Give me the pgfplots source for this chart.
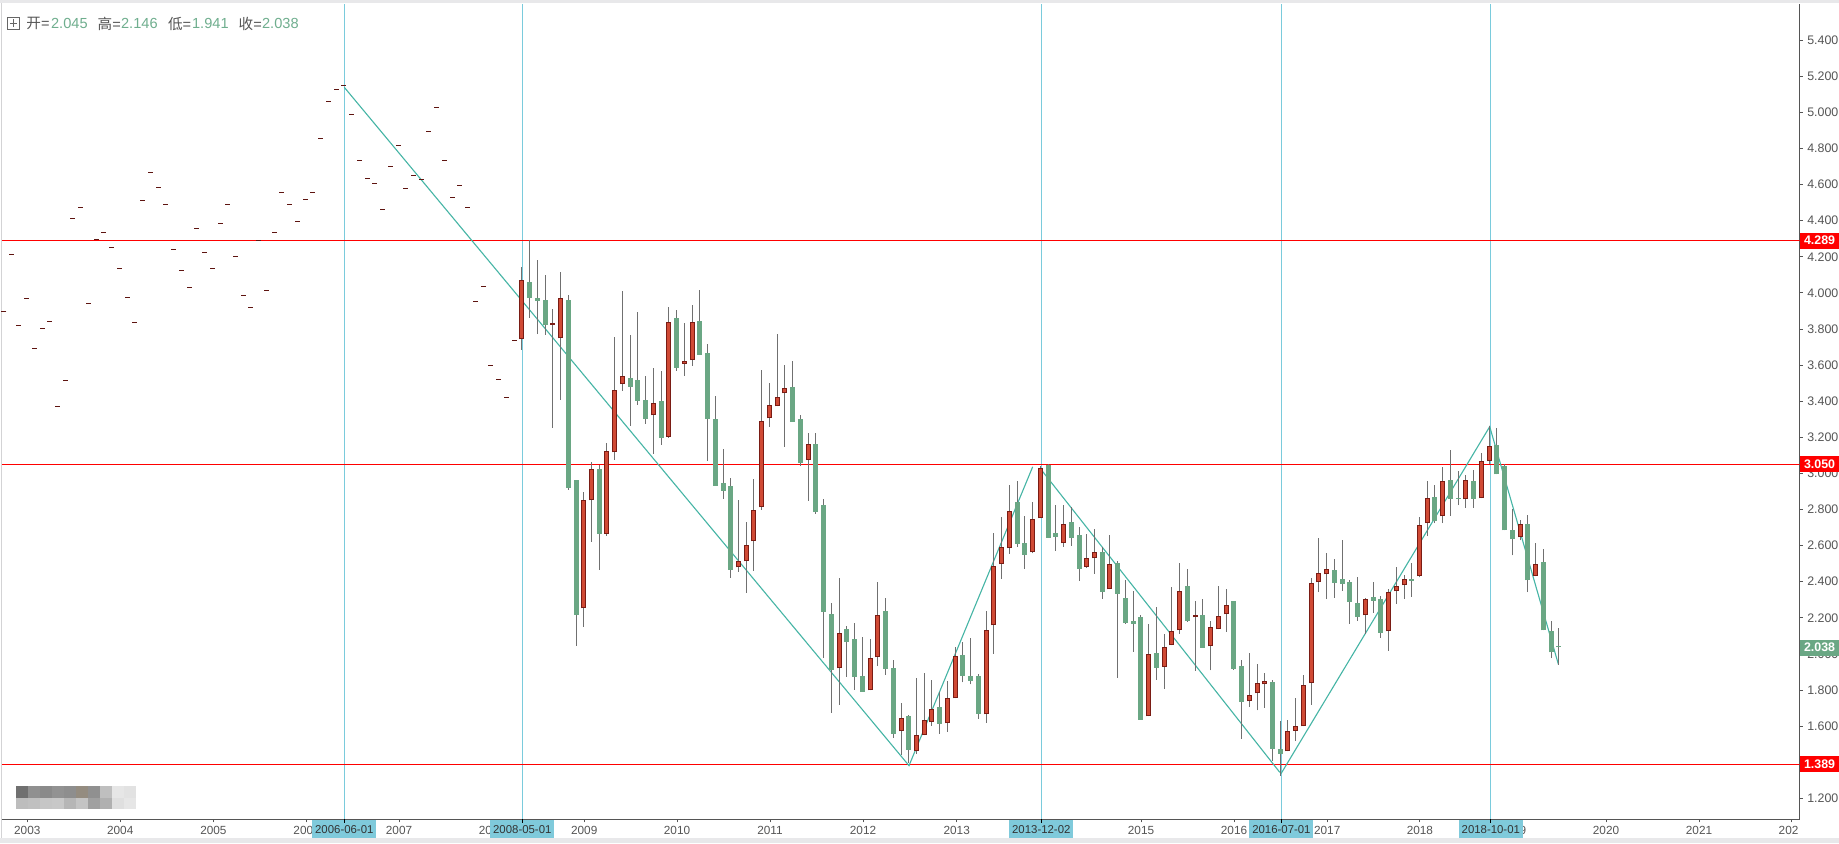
\documentclass[border=0pt]{standalone}
\usepackage{fontspec}
\setmainfont{Liberation Sans}
\newfontfamily\cjk{Noto Sans CJK SC}
\usepackage{pgfplots}
\usepackage{pgfplotstable}
\pgfplotsset{compat=1.18}
\definecolor{upfill}{HTML}{D04A35}
\definecolor{upedge}{HTML}{7A1C14}
\definecolor{down}{HTML}{6AA784}
\definecolor{wick}{HTML}{707070}
\definecolor{dashc}{HTML}{5E1410}
\definecolor{zig}{HTML}{45B5A5}
\definecolor{vline}{HTML}{7ACBDC}
\definecolor{tagc}{HTML}{7FCADB}
\definecolor{axisc}{HTML}{555555}
\definecolor{headv}{HTML}{6FAE8E}
\definecolor{band}{HTML}{E8E8EA}

\pgfplotstableread{
x y
4 3.898
11.3 4.214
18.3 3.820
26.3 3.970
34.3 3.693
42.3 3.804
49.3 3.843
57.3 3.372
65.3 3.516
72.3 4.413
80.3 4.474
88.3 3.942
96.3 4.297
103.3 4.336
111.3 4.253
119.3 4.136
127.3 3.976
134.3 3.837
142.3 4.513
150.3 4.668
158.3 4.585
165.3 4.491
173.3 4.242
181.3 4.125
189.3 4.031
196.3 4.358
204.3 4.225
212.3 4.136
220.3 4.386
227.3 4.491
235.3 4.203
243.3 3.987
250.3 3.920
258.3 4.288
266.3 4.014
274.3 4.336
281.3 4.557
289.3 4.491
297.3 4.397
305.3 4.518
312.3 4.557
320.3 4.856
328.3 5.061
336.3 5.128
343.3 5.148
351.3 4.989
359.3 4.735
367.3 4.635
374.3 4.607
382.3 4.463
390.3 4.703
398.3 4.818
405.3 4.579
413.3 4.651
421.3 4.629
428.3 4.895
436.3 5.028
444.3 4.735
452.3 4.529
459.3 4.596
467.3 4.474
475.3 3.953
483.7 4.036
490.3 3.599
498.3 3.521
506.3 3.422
514.3 3.737
}\dashes

\pgfplotstableread{
x lo hi wl wh
521.7 3.743 4.070 3.686 4.144
552.3 3.824 3.832 3.254 3.909
560.3 3.748 3.970 3.409 4.116
583.3 2.253 2.851 2.151 2.895
591.3 2.851 3.023 2.622 3.061
606.3 2.666 3.122 2.655 3.167
614.3 3.117 3.460 3.076 3.756
622.3 3.494 3.538 3.457 4.011
653.3 3.322 3.388 3.109 3.582
668.3 3.204 3.837 3.198 3.920
684.3 3.608 3.621 3.542 3.832
692.3 3.627 3.837 3.597 3.931
738.3 2.480 2.513 2.456 2.851
746.3 2.513 2.602 2.339 2.729
753.3 2.624 2.796 2.461 2.967
761.3 2.812 3.289 2.799 3.571
769.3 3.305 3.377 3.259 3.499
777.3 3.372 3.422 3.372 3.771
784.3 3.444 3.471 3.148 3.599
808.3 3.073 3.161 2.849 3.222
839.3 1.920 2.114 1.719 2.419
870.3 1.798 1.976 1.798 2.081
877.3 1.981 2.214 1.935 2.397
901.3 1.571 1.643 1.440 1.726
916.3 1.464 1.549 1.447 1.865
924.3 1.549 1.632 1.549 1.892
931.3 1.621 1.693 1.602 1.854
947.3 1.615 1.754 1.569 1.848
955.3 1.754 1.986 1.754 2.036
986.3 1.665 2.131 1.619 2.236
993.3 2.158 2.485 2.001 2.668
1001.3 2.496 2.590 2.417 2.757
1009.3 2.585 2.790 2.555 2.934
1032.3 2.563 2.745 2.557 2.840
1040.3 2.751 3.028 2.751 3.041
1063.3 2.613 2.718 2.594 2.823
1086.3 2.483 2.529 2.478 2.662
1094.3 2.529 2.563 2.444 2.690
1109.3 2.358 2.496 2.358 2.657
1148.3 1.654 1.998 1.654 2.164
1164.3 1.929 2.036 1.807 2.108
1171.3 2.047 2.125 2.047 2.369
1179.3 2.131 2.347 2.112 2.502
1195.3 2.203 2.214 1.907 2.291
1210.3 2.042 2.147 1.909 2.180
1218.3 2.136 2.208 2.136 2.374
1226.3 2.219 2.269 2.123 2.358
1249.3 1.737 1.770 1.708 2.003
1257.3 1.781 1.837 1.687 1.942
1264.8 1.831 1.848 1.702 1.892
1287.7 1.460 1.575 1.460 1.632
1295.5 1.575 1.599 1.519 1.754
1303.6 1.599 1.826 1.599 1.881
1311.3 1.837 2.391 1.719 2.419
1318.3 2.397 2.447 2.343 2.640
1326.5 2.441 2.469 2.304 2.557
1365.2 2.214 2.302 2.109 2.308
1388.5 2.125 2.341 2.018 2.358
1396.6 2.347 2.375 2.278 2.480
1404.4 2.380 2.413 2.306 2.435
1419.5 2.430 2.712 2.424 2.757
1427.3 2.724 2.862 2.652 2.956
1442.4 2.762 2.956 2.724 3.034
1465.3 2.856 2.962 2.810 2.989
1481.6 2.862 3.067 2.862 3.111
1489.3 3.067 3.150 3.050 3.263
1520.7 2.646 2.718 2.629 2.740
1535.5 2.430 2.500 2.430 2.613
}\upcandles

\pgfplotstableread{
x lo hi wl wh
529.3 3.974 4.061 3.863 4.291
537.3 3.957 3.972 3.772 4.181
545.3 3.824 3.961 3.767 4.097
568.3 2.921 3.961 2.910 3.988
576.3 2.218 2.964 2.046 2.964
599.3 2.666 3.025 2.467 3.047
630.3 3.481 3.527 3.265 3.765
637.3 3.403 3.516 3.381 3.892
645.3 3.303 3.405 3.276 3.538
661.3 3.198 3.399 3.159 3.566
676.3 3.586 3.861 3.569 3.904
699.3 3.658 3.843 3.658 4.014
707.3 3.303 3.665 3.071 3.715
715.3 2.932 3.300 2.932 3.427
723.3 2.904 2.945 2.860 3.133
730.3 2.467 2.928 2.422 2.973
792.3 3.287 3.477 3.287 3.621
800.3 3.060 3.300 3.043 3.322
815.3 2.788 3.161 2.777 3.222
823.3 2.234 2.823 1.979 2.856
831.3 1.913 2.219 1.675 2.280
846.3 2.068 2.136 1.874 2.153
854.3 1.874 2.081 1.802 2.169
862.3 1.791 1.876 1.791 2.092
885.3 1.918 2.236 1.885 2.308
893.3 1.558 1.920 1.536 1.964
908.3 1.469 1.654 1.397 1.660
939.3 1.613 1.704 1.558 1.787
962.3 1.879 1.992 1.842 2.064
970.3 1.852 1.876 1.831 2.086
978.3 1.669 1.876 1.641 1.887
1017.3 2.611 2.840 2.594 2.956
1024.3 2.550 2.613 2.472 2.762
1048.3 2.644 3.045 2.644 3.050
1055.3 2.649 2.668 2.572 2.823
1071.3 2.644 2.729 2.600 2.812
1079.3 2.472 2.657 2.406 2.701
1102.3 2.345 2.563 2.306 2.590
1117.3 2.334 2.502 1.868 2.513
1125.3 2.171 2.308 2.167 2.408
1133.3 2.167 2.180 2.012 2.347
1140.3 1.636 2.203 1.636 2.214
1156.3 1.924 2.003 1.857 2.258
1187.3 2.184 2.374 2.179 2.468
1202.3 2.035 2.214 2.035 2.302
1233.3 1.918 2.291 1.913 2.291
1241.3 1.735 1.931 1.530 1.964
1272.6 1.475 1.843 1.407 1.854
1280.3 1.447 1.471 1.326 1.627
1334.6 2.395 2.463 2.312 2.524
1342.3 2.389 2.413 2.350 2.629
1349.4 2.290 2.397 2.168 2.408
1357.5 2.206 2.280 2.184 2.426
1373.4 2.295 2.314 2.229 2.397
1380.4 2.118 2.302 2.090 2.319
1411.4 2.406 2.415 2.317 2.502
1434.3 2.738 2.868 2.724 2.934
1450.5 2.860 2.962 2.766 3.128
1458.3 2.860 2.864 2.825 3.012
1473.4 2.860 2.956 2.810 3.017
1496.3 2.995 3.156 2.995 3.250
1504.5 2.685 3.039 2.685 3.050
1512.6 2.635 2.685 2.546 2.801
1527.4 2.408 2.718 2.343 2.768
1543.6 2.131 2.507 2.131 2.579
1551.4 2.009 2.125 1.977 2.181
1558.4 2.038 2.045 1.941 2.146
}\downcandles

\begin{document}
\begin{tikzpicture}[x=1pt,y=1pt]
\begin{scope}[x=0.5pt,y=-0.5pt,shift={(0,421.5pt)}]
  \path[use as bounding box] (0,0) rectangle (1839,843);
  \fill[white] (0,0) rectangle (1839,843);
  \fill[band] (0,0) rectangle (1839,3.3);
  \fill[band] (0,838) rectangle (1839,843);
  \fill[band!80!gray] (1,3.3) rectangle (2,838);
\end{scope}
\begin{axis}[
  at={(1pt,11.85pt)}, anchor=south west,
  scale only axis, width=898.75pt, height=407.65pt,
  xmin=2, xmax=1799.5, ymin=1.0837, ymax=5.6006,
  axis x line=bottom, axis y line=right,
  axis line style={-, color=axisc, line width=0.5pt},
  tick style={color=axisc, line width=0.5pt},
  tick align=outside, major tick length=1.5pt,
  ytick={1.2,1.4,1.6,1.8,2.0,2.2,2.4,2.6,2.8,3.0,3.2,3.4,3.6,3.8,4.0,4.2,4.4,4.6,4.8,5.0,5.2,5.4},
  xtick={27.3,120.2,213.4,306.6,399,492,584.2,677,770,863,956.7,1049.6,1141,1234,1327.2,1419.9,1513,1606,1699,1791.8},
  xticklabels={2003,2004,2005,2006,2007,2008,2009,2010,2011,2012,2013,2014,2015,2016,2017,2018,2019,2020,2021,2022},
  minor tick num=0,
  /pgf/number format/fixed, /pgf/number format/fixed zerofill, /pgf/number format/precision=3,
  /pgf/number format/assume math mode=true,
  y tick label style={font=\fontsize{6.2}{7}\selectfont, color=axisc, inner sep=0pt, xshift=2.2pt},
  x tick label style={font=\fontsize{5.9}{7}\selectfont, color=axisc, inner sep=0pt, yshift=-1.9pt},
  clip=true,
]
% guide lines
\addplot[vline, line width=0.5pt, forget plot] coordinates {(344.3,1.0837) (344.3,5.6006)};
\addplot[vline, line width=0.5pt, forget plot] coordinates {(522.3,1.0837) (522.3,5.6006)};
\addplot[vline, line width=0.5pt, forget plot] coordinates {(1041.3,1.0837) (1041.3,5.6006)};
\addplot[vline, line width=0.5pt, forget plot] coordinates {(1281.4,1.0837) (1281.4,5.6006)};
\addplot[vline, line width=0.5pt, forget plot] coordinates {(1490.8,1.0837) (1490.8,5.6006)};
\addplot[red, line width=0.7pt, forget plot] coordinates {(2,4.289) (1799.5,4.289)};
\addplot[red, line width=0.7pt, forget plot] coordinates {(2,3.050) (1799.5,3.050)};
\addplot[red, line width=0.7pt, forget plot] coordinates {(2,1.389) (1799.5,1.389)};
% zigzag
\addplot[zig, line width=0.55pt, forget plot] coordinates {(344.3,5.139) (909,1.381) (1032.7,3.037)};
\addplot[zig, line width=0.55pt, forget plot] coordinates {(1042.7,3.010) (1279.2,1.348) (1281.4,1.340) (1489.7,3.259) (1558.4,1.942)};
% monthly ticks without range
\addplot[only marks, mark=-, mark size=1.25pt, mark options={color=dashc, line width=0.5pt}, forget plot] table[x=x,y=y] {\dashes};
% wicks
\addplot[draw=none, mark=none, forget plot,
  error bars/.cd, y dir=plus, y explicit, error mark=none,
  error bar style={draw, color=wick, line width=0.5pt}]
  table[x=x, y=wl, y error plus expr=\thisrow{wh}-\thisrow{wl}] {\upcandles};
\addplot[draw=none, mark=none, forget plot,
  error bars/.cd, y dir=plus, y explicit, error mark=none,
  error bar style={draw, color=wick, line width=0.5pt}]
  table[x=x, y=wl, y error plus expr=\thisrow{wh}-\thisrow{wl}] {\downcandles};
% bodies
\addplot[draw=none, mark=none, forget plot,
  error bars/.cd, y dir=plus, y explicit, error mark=none,
  error bar style={draw, color=down, line width=2.5pt}]
  table[x=x, y=lo, y error plus expr=\thisrow{hi}-\thisrow{lo}] {\downcandles};
\addplot[draw=none, mark=none, forget plot,
  error bars/.cd, y dir=plus, y explicit, error mark=none,
  error bar style={draw, color=upedge, line width=2.4pt}]
  table[x=x, y=lo, y error plus expr=\thisrow{hi}-\thisrow{lo}] {\upcandles};
\addplot[draw=none, mark=none, forget plot,
  error bars/.cd, y dir=plus, y explicit, error mark=none,
  error bar style={draw, color=upfill, line width=1.4pt}]
  table[x=x, y expr=\thisrow{lo}+0.0055, y error plus expr={max(0,\thisrow{hi}-\thisrow{lo}-0.011)}] {\upcandles};
\end{axis}
\begin{scope}[x=0.5pt,y=-0.5pt,shift={(0,421.5pt)}]
  % right edge cover for the clipped 2022 label
  \fill[white] (1798,820) rectangle (1839,838);
  % price tags
  \foreach \yy/\txt/\col in {240.5/4.289/red,464.3/3.050/red,764.3/1.389/red,647.5/2.038/down}{
    \fill[\col] (1799.5,\yy-8) rectangle (1839,\yy+8);
    \node[text=white, inner sep=0pt, font=\fontsize{6.2}{7}\selectfont\bfseries] at (1819.5,\yy) {\txt};
  }
  % date tags
  \foreach \xx/\txt in {344.3/2006-06-01,522.3/2008-05-01,1041.3/2013-12-02,1281.4/2016-07-01,1490.8/2018-10-01}{
    \fill[tagc] (\xx-32,820) rectangle (\xx+32,838);
    \draw[black, line width=0.5pt] (\xx,819) -- (\xx,822.5);
    \node[text=black!80, inner sep=0pt, font=\fontsize{5.7}{7}\selectfont] at (\xx,829.5) {\txt};
  }
  % header
  \draw[axisc!90, line width=0.4pt] (7.5,17) rectangle (19.5,29) (9.8,23) -- (17.2,23) (13.5,19.3) -- (13.5,26.7);
  \foreach \xa/\la/\xb/\vb in {26/开/50.7/2.045,97.3/高/120.7/2.146,167.7/低/191.7/1.941,238.3/收/261.7/2.038}{
    \node[anchor=west, inner sep=0pt, text=axisc, font=\fontsize{7.3}{8}\selectfont] at (\xa,23.7) {{\cjk\la}=};
    \node[anchor=west, inner sep=0pt, text=headv, font=\fontsize{7.3}{8}\selectfont] at (\xb,23.7) {\vb};
  }
  % masked watermark
  \foreach \i/\c in {0/707070,1/909090,2/8A8A8A,3/929292,4/8E8E8E,5/948C80,6/909090,7/BFBFBF,8/E6E6E6,9/E2E2E2}{
    \definecolor{cellc}{HTML}{\c}
    \fill[cellc] (15.8+\i*12,786) rectangle (27.8+\i*12,798);
  }
  \foreach \i/\c in {0/BDBDBD,1/C0C0C0,2/C6C6C6,3/C8C8C8,4/B6B6B6,5/C4C4C4,6/A0A0A0,7/B0B0B0,8/DFDFDF,9/E6E6E6}{
    \definecolor{cellc}{HTML}{\c}
    \fill[cellc] (15.8+\i*12,798) rectangle (27.8+\i*12,809);
  }
\end{scope}
\end{tikzpicture}
\end{document}
